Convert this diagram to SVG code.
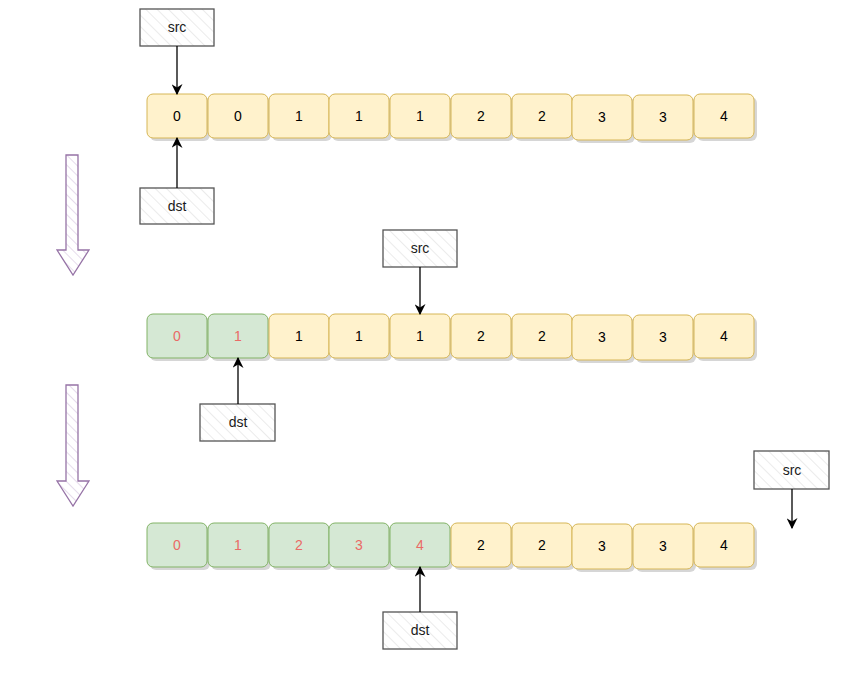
<svg xmlns="http://www.w3.org/2000/svg" width="852" height="686" viewBox="0 0 852 686">
<style>
text{font-family:"Liberation Sans",Arial,sans-serif;font-size:14px;text-anchor:middle;dominant-baseline:central}
.y{fill:#fff2cc;stroke:#d6b656;stroke-width:1}
.g{fill:#d5e8d4;stroke:#82b366;stroke-width:1}
.sh{fill:#000;opacity:0.16}
.r{fill:#ea6b66}
.k{fill:#000}
.lb{fill:url(#hatch);stroke:#555;stroke-width:1.3}
.lt{fill:#1a1a1a}
.c{stroke:#000;stroke-width:1.3;fill:none;marker-end:url(#ah)}
.pa{fill:url(#phatch);stroke:#9673a6;stroke-width:1.3}
</style>
<defs>
<pattern id="hatch" width="8" height="8" patternUnits="userSpaceOnUse" patternTransform="rotate(-45)">
<rect width="8" height="8" fill="#fff"/>
<line x1="0" y1="0" x2="0" y2="8" stroke="#ebebeb" stroke-width="2"/>
</pattern>
<pattern id="phatch" width="7" height="7" patternUnits="userSpaceOnUse" patternTransform="rotate(-45)">
<rect width="7" height="7" fill="#fff"/>
<line x1="0" y1="0" x2="0" y2="7" stroke="#e6dcec" stroke-width="2"/>
</pattern>
<marker id="ah" viewBox="0 0 10 10" refX="9" refY="5" markerWidth="11" markerHeight="11" markerUnits="userSpaceOnUse" orient="auto">
<path d="M0,0 L10,5 L0,10 L3,5 Z" fill="#000"/>
</marker>
</defs>

<g id="flow-arrows">
<path id="down1" class="pa" d="M66,155 L78,155 L78,250 L89,250 L73,275 L57,250 L66,250 Z"/>
<path id="down2" class="pa" d="M66,385 L78,385 L78,481 L89,481 L73,506 L57,481 L66,481 Z"/>
</g>

<g id="row1">
<g id="r1c0"><rect class="sh" x="150" y="97" width="60" height="44" rx="6"/><rect class="y" x="147" y="94" width="60" height="44" rx="6"/><text class="k" x="177" y="116">0</text></g>
<g id="r1c1"><rect class="sh" x="211" y="97" width="60" height="44" rx="6"/><rect class="y" x="208" y="94" width="60" height="44" rx="6"/><text class="k" x="238" y="116">0</text></g>
<g id="r1c2"><rect class="sh" x="272" y="97" width="60" height="44" rx="6"/><rect class="y" x="269" y="94" width="60" height="44" rx="6"/><text class="k" x="299" y="116">1</text></g>
<g id="r1c3"><rect class="sh" x="332" y="97" width="60" height="44" rx="6"/><rect class="y" x="329" y="94" width="60" height="44" rx="6"/><text class="k" x="359" y="116">1</text></g>
<g id="r1c4"><rect class="sh" x="393" y="97" width="60" height="44" rx="6"/><rect class="y" x="390" y="94" width="60" height="44" rx="6"/><text class="k" x="420" y="116">1</text></g>
<g id="r1c5"><rect class="sh" x="454" y="97" width="60" height="44" rx="6"/><rect class="y" x="451" y="94" width="60" height="44" rx="6"/><text class="k" x="481" y="116">2</text></g>
<g id="r1c6"><rect class="sh" x="515" y="97" width="60" height="44" rx="6"/><rect class="y" x="512" y="94" width="60" height="44" rx="6"/><text class="k" x="542" y="116">2</text></g>
<g id="r1c7"><rect class="sh" x="575" y="98" width="60" height="45" rx="6"/><rect class="y" x="572" y="95" width="60" height="45" rx="6"/><text class="k" x="602" y="117">3</text></g>
<g id="r1c8"><rect class="sh" x="636" y="98" width="60" height="45" rx="6"/><rect class="y" x="633" y="95" width="60" height="45" rx="6"/><text class="k" x="663" y="117">3</text></g>
<g id="r1c9"><rect class="sh" x="697" y="97" width="60" height="44" rx="6"/><rect class="y" x="694" y="94" width="60" height="44" rx="6"/><text class="k" x="724" y="116">4</text></g>
</g>

<g id="row2">
<g id="r2c0"><rect class="sh" x="150" y="317" width="60" height="44" rx="6"/><rect class="g" x="147" y="314" width="60" height="44" rx="6"/><text class="r" x="177" y="336">0</text></g>
<g id="r2c1"><rect class="sh" x="211" y="317" width="60" height="44" rx="6"/><rect class="g" x="208" y="314" width="60" height="44" rx="6"/><text class="r" x="238" y="336">1</text></g>
<g id="r2c2"><rect class="sh" x="272" y="317" width="60" height="44" rx="6"/><rect class="y" x="269" y="314" width="60" height="44" rx="6"/><text class="k" x="299" y="336">1</text></g>
<g id="r2c3"><rect class="sh" x="332" y="317" width="60" height="44" rx="6"/><rect class="y" x="329" y="314" width="60" height="44" rx="6"/><text class="k" x="359" y="336">1</text></g>
<g id="r2c4"><rect class="sh" x="393" y="317" width="60" height="44" rx="6"/><rect class="y" x="390" y="314" width="60" height="44" rx="6"/><text class="k" x="420" y="336">1</text></g>
<g id="r2c5"><rect class="sh" x="454" y="317" width="60" height="44" rx="6"/><rect class="y" x="451" y="314" width="60" height="44" rx="6"/><text class="k" x="481" y="336">2</text></g>
<g id="r2c6"><rect class="sh" x="515" y="317" width="60" height="44" rx="6"/><rect class="y" x="512" y="314" width="60" height="44" rx="6"/><text class="k" x="542" y="336">2</text></g>
<g id="r2c7"><rect class="sh" x="575" y="318" width="60" height="45" rx="6"/><rect class="y" x="572" y="315" width="60" height="45" rx="6"/><text class="k" x="602" y="337">3</text></g>
<g id="r2c8"><rect class="sh" x="636" y="318" width="60" height="45" rx="6"/><rect class="y" x="633" y="315" width="60" height="45" rx="6"/><text class="k" x="663" y="337">3</text></g>
<g id="r2c9"><rect class="sh" x="697" y="317" width="60" height="44" rx="6"/><rect class="y" x="694" y="314" width="60" height="44" rx="6"/><text class="k" x="724" y="336">4</text></g>
</g>

<g id="row3">
<g id="r3c0"><rect class="sh" x="150" y="526" width="60" height="44" rx="6"/><rect class="g" x="147" y="523" width="60" height="44" rx="6"/><text class="r" x="177" y="545">0</text></g>
<g id="r3c1"><rect class="sh" x="211" y="526" width="60" height="44" rx="6"/><rect class="g" x="208" y="523" width="60" height="44" rx="6"/><text class="r" x="238" y="545">1</text></g>
<g id="r3c2"><rect class="sh" x="272" y="526" width="60" height="44" rx="6"/><rect class="g" x="269" y="523" width="60" height="44" rx="6"/><text class="r" x="299" y="545">2</text></g>
<g id="r3c3"><rect class="sh" x="332" y="526" width="60" height="44" rx="6"/><rect class="g" x="329" y="523" width="60" height="44" rx="6"/><text class="r" x="359" y="545">3</text></g>
<g id="r3c4"><rect class="sh" x="393" y="526" width="60" height="44" rx="6"/><rect class="g" x="390" y="523" width="60" height="44" rx="6"/><text class="r" x="420" y="545">4</text></g>
<g id="r3c5"><rect class="sh" x="454" y="526" width="60" height="44" rx="6"/><rect class="y" x="451" y="523" width="60" height="44" rx="6"/><text class="k" x="481" y="545">2</text></g>
<g id="r3c6"><rect class="sh" x="515" y="526" width="60" height="44" rx="6"/><rect class="y" x="512" y="523" width="60" height="44" rx="6"/><text class="k" x="542" y="545">2</text></g>
<g id="r3c7"><rect class="sh" x="575" y="527" width="60" height="45" rx="6"/><rect class="y" x="572" y="524" width="60" height="45" rx="6"/><text class="k" x="602" y="546">3</text></g>
<g id="r3c8"><rect class="sh" x="636" y="527" width="60" height="45" rx="6"/><rect class="y" x="633" y="524" width="60" height="45" rx="6"/><text class="k" x="663" y="546">3</text></g>
<g id="r3c9"><rect class="sh" x="697" y="526" width="60" height="44" rx="6"/><rect class="y" x="694" y="523" width="60" height="44" rx="6"/><text class="k" x="724" y="545">4</text></g>
</g>

<g id="src1"><rect class="lb" x="140" y="9" width="74" height="37"/><text class="lt" x="177" y="27">src</text></g>
<g id="dst1"><rect class="lb" x="140" y="188" width="74" height="36"/><text class="lt" x="177" y="206">dst</text></g>
<g id="src2"><rect class="lb" x="383" y="230" width="74" height="37"/><text class="lt" x="420" y="248">src</text></g>
<g id="dst2"><rect class="lb" x="200" y="404" width="75" height="37"/><text class="lt" x="238" y="422">dst</text></g>
<g id="src3"><rect class="lb" x="754" y="451" width="75" height="38"/><text class="lt" x="792" y="470">src</text></g>
<g id="dst3"><rect class="lb" x="383" y="612" width="74" height="37"/><text class="lt" x="420" y="630">dst</text></g>

<g id="connectors">
<line class="c" x1="177" y1="46" x2="177" y2="94"/>
<line class="c" x1="177" y1="188" x2="177" y2="138"/>
<line class="c" x1="420" y1="267" x2="420" y2="314"/>
<line class="c" x1="238" y1="404" x2="238" y2="358"/>
<line class="c" x1="792" y1="489" x2="792" y2="528"/>
<line class="c" x1="420" y1="612" x2="420" y2="567"/>
</g>
</svg>
